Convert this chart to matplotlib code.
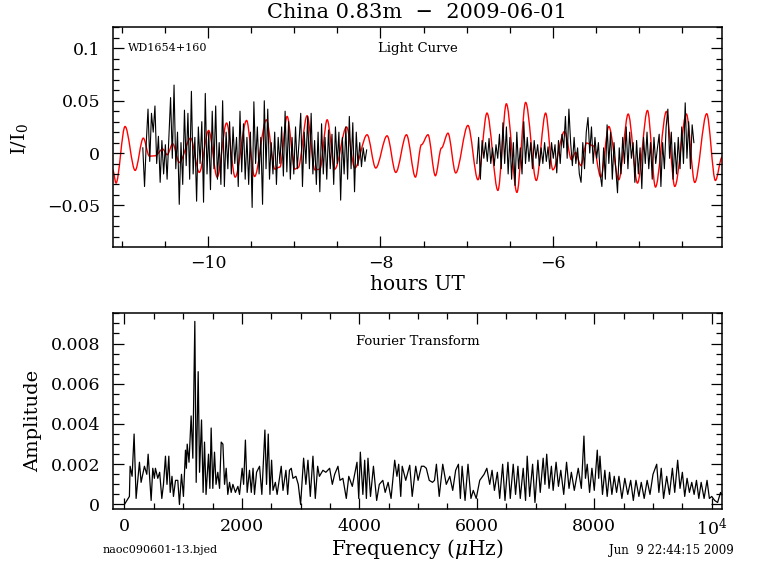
import matplotlib
matplotlib.use('Agg')
import matplotlib.pyplot as plt
from matplotlib.ticker import MultipleLocator, FuncFormatter
from matplotlib.path import Path
from matplotlib.patches import PathPatch
import numpy as np

# PGPLOT-like look: wide serif text, inward ticks on all sides
plt.rcParams['font.family'] = ['DejaVu Serif']
plt.rcParams['mathtext.fontset'] = 'dejavuserif'

# ---- light curve: two runs of observed data (units of 1e-3) ----
run1_start, run1_end = -10.76, -8.16
run1_flux = [5, -32, 10, 42, -8, 38, 20, 45, -10, 16, -28, 12, -20, 8, -25, 14,
             53, -5, 65, -15, 20, -49, 10, -30, 41, -12, 38, -25, 59, -20, 15,
             -46, 25, -10, 30, -47, 57, -20, 20, -35, 40, -15, 45, -25, 10, -30,
             50, -32, 20, -15, 30, -20, 25, -10, 15, -32, 40, -18, 28, -25, 15,
             -30, 20, -52, 49, -10, 25, -20, 15, -49, 50, -15, 42, -25, 10, -20,
             20, -30, 15, -10, 25, -22, 40, -18, 30, -25, 15, -20, 25, -15, 10,
             38, -32, 20, -10, 35, -15, 38, -20, 12, -30, 20, -37, 28, -20, 15,
             -25, 22, -15, 18, -30, 25, -10, 20, -45, 15, -20, 25, -25, 35, -15,
             29, -37, 20, -12, 10, -13, 5, -8, 3]

run2_start, run2_end = -6.88, -4.36
run2_flux = [-10, 15, -25, 12, -5, 10, -8, 14, -10, 5, -12, 8, -5, 18, -15,
             29, -10, 25, -20, 15, -25, 10, -31, 20, -15, 5, -20, 30, -10, 15,
             -8, 10, -15, 12, -5, 8, -12, 5, -10, 10, -8, 6, -15, 10, -5,
             8, -19, 12, -10, 18, 5, 35, -5, 42, 10, -12, 15, -10, 5, -20,
             -28, 10, -15, 20, 34, 0, 25, -10, 15, -5, 10, -20, -32, 5, -25,
             27, -10, 20, -25, 10, -15, -38, 5, -20, 15, -10, 25, -15, 20, -5,
             10, -28, 12, -20, 5, -34, 15, -10, 20, -15, 10, -25, 15, -10, 5,
             18, -32, 10, -15, 25, 42, -5, 20, -25, 10, -20, 15, -15, 25, -10,
             48, -5, 30, -15, 27, 10]

# ---- multi-periodic fit, read at its turning points (units of 1e-3) ----
fit_hours = [-11.109, -11.071, -10.966, -10.849, -10.754, -10.684, -10.618,
             -10.529, -10.476, -10.413, -10.336, -10.204, -10.104, -9.995,
             -9.896, -9.787, -9.687, -9.555, -9.462, -9.325, -9.226, -9.168,
             -9.084, -8.994, -8.956, -8.852, -8.762, -8.704, -8.619, -8.530,
             -8.394, -8.298, -8.155, -8.055, -7.923, -7.822, -7.698, -7.594,
             -7.524, -7.448, -7.362, -7.292, -7.216, -7.126, -6.984, -6.868,
             -6.763, -6.636, -6.538, -6.415, -6.314, -6.190, -6.082, -5.998,
             -5.862, -5.781, -5.734, -5.673, -5.607, -5.529, -5.441, -5.348,
             -5.232, -5.123, -5.015, -4.899, -4.806, -4.679, -4.582, -4.447,
             -4.350, -4.211, -4.110, -4.032]
fit_flux = [-16, -28.7, 25.4, -16.6, 14.3, -3, -2.6, 3.8, -1.6, 8.9, -9, 14.3,
            -18.5, 21.6, -23, 28.7, -23, 31.2, -22.4, 31.8, -15.3, -13.4, 35,
            -15.3, -14, 35.7, -16, -15.5, 31.8, -15.3, 24.9, -14.3, 17.5, -14.3,
            16.5, -18.5, 17.5, -23, 8, 17.5, -21.7, 4.8, 19, -19, 26.4, -25.5,
            38.2, -35.7, 47.1, -37.6, 48.4, -26.2, 38.2, -16, 20.7, -6.4, 0.6,
            -12, 9.6, 7, -23, 25.4, -25.5, 37.3, -28.7, 40.7, -32.5, 39.8,
            -31.9, 37.3, -28.1, 37.6, -26.2, -3.8]

# ---- Fourier transform, read at its turning points (amplitude in 1e-4) ----
ft_freq = [0, 85, 97, 131, 165, 199, 256, 284, 341, 381, 404, 455, 483, 510,
           528, 568, 600, 637, 665, 699, 725, 756, 780, 810, 835, 870, 909, 937,
           972, 1005, 1040, 1055, 1069, 1100, 1136, 1165, 1199, 1222, 1256,
           1279, 1313, 1340, 1364, 1390, 1432, 1455, 1477, 1505, 1534, 1560,
           1590, 1620, 1648, 1677, 1705, 1733, 1760, 1790, 1818, 1847, 1890,
           1932, 1960, 2005, 2030, 2060, 2090, 2130, 2160, 2190, 2215, 2250,
           2301, 2340, 2392, 2420, 2449, 2478, 2506, 2530, 2570, 2600, 2670,
           2700, 2750, 2780, 2810, 2841, 2870, 2920, 2960, 3000, 3051, 3090,
           3125, 3165, 3210, 3250, 3290, 3320, 3380, 3430, 3494, 3540, 3580,
           3636, 3670, 3720, 3778, 3820, 3880, 3960, 3990, 4017, 4060, 4091,
           4120, 4147, 4190, 4240, 4295, 4340, 4400, 4440, 4490, 4540, 4602,
           4640, 4670, 4705, 4730, 4790, 4858, 4900, 4960, 5000, 5057, 5100,
           5140, 5190, 5245, 5280, 5312, 5360, 5420, 5480, 5540, 5590, 5640,
           5687, 5720, 5750, 5800, 5850, 5900, 5940, 5990, 6050, 6124, 6171,
           6220, 6260, 6300, 6350, 6390, 6440, 6480, 6530, 6570, 6620, 6660,
           6700, 6740, 6790, 6830, 6858, 6900, 6950, 6990, 7040, 7080, 7130,
           7160, 7190, 7230, 7270, 7300, 7350, 7390, 7430, 7480, 7528, 7570,
           7610, 7660, 7727, 7780, 7824, 7850, 7880, 7920, 7960, 8000, 8051,
           8075, 8097, 8140, 8180, 8220, 8260, 8300, 8340, 8380, 8420, 8470,
           8520, 8570, 8620, 8665, 8710, 8760, 8800, 8850, 8900, 8949, 9000,
           9063, 9100, 9140, 9180, 9233, 9280, 9330, 9370, 9420, 9460, 9500,
           9540, 9580, 9620, 9660, 9700, 9740, 9780, 9820, 9870, 9920, 9960,
           10000, 10050, 10100, 10150, 10170]
ft_amp = [0, 4, 19, 14, 35, 3, 21, 11, 19, 15, 25, 2, 18, 13, 18, 13, 16, 3,
          10, 24, 10, 24, 6, 14, 4, 12, 12, 0, 15, 4, 27, 18, 30, 21, 44, 23,
          91, 11, 66, 16, 42, 6, 31, 5, 25, 8, 38, 8, 26, 10, 16, 8, 31, 30,
          10, 18, 5, 11, 6, 10, 6, 9, 5, 18, 10, 32, 6, 17, 6, 18, 5, 16, 19,
          5, 37, 10, 35, 5, 22, 7, 11, 5, 19, 7, 17, 5, 17, 18, 13, 14, 10, 0,
          23, 10, 22, 4, 24, 3, 19, 14, 17, 16, 18, 10, 15, 19, 12, 13, 3, 14,
          9, 21, 3, 26, 5, 22, 3, 23, 4, 19, 2, 10, 12, 6, 11, 3, 22, 14, 20,
          4, 19, 12, 19.5, 4, 19, 12, 19, 19, 18, 12, 11, 12, 20, 4, 20, 10,
          14, 7, 17, 20, 3, 19, 2, 20, 3, 7, 3, 12, 15, 18, 10, 17, 7, 16, 3,
          20, 2, 21, 3, 20, 5, 19, 3, 18, 2, 24, 4, 20, 1, 22, 6, 23, 10, 25,
          8, 19, 7, 21, 9, 17, 5, 21, 8, 16, 7, 18, 8, 34, 13, 20, 6, 18, 7,
          27, 13, 24, 5, 17, 4, 16, 5, 14, 6, 14, 3, 13, 5, 12, 2, 12, 4, 11,
          3, 12, 5, 15, 20, 6, 18, 3, 14, 5, 18, 6, 22, 8, 16, 4, 13, 6, 11, 5,
          12, 3, 11, 3, 12, 3, 4, 2, 1, 6, 5]


def smooth_path(xs, ys):
    # curve through the turning points, flat at each one (line style only)
    verts = [(xs[0], ys[0])]
    codes = [Path.MOVETO]
    for i in range(1, len(xs)):
        dx = (xs[i] - xs[i - 1]) / 3.0
        verts += [(xs[i - 1] + dx, ys[i - 1]), (xs[i] - dx, ys[i]),
                  (xs[i], ys[i])]
        codes += [Path.CURVE4] * 3
    return Path(verts, codes)


t1 = np.linspace(run1_start, run1_end, len(run1_flux))
t2 = np.linspace(run2_start, run2_end, len(run2_flux))

fig = plt.figure(figsize=(7.68, 5.74), dpi=100)
ax1 = fig.add_axes([0.1467, 0.5702, 0.7938, 0.3819])
ax2 = fig.add_axes([0.1467, 0.1127, 0.7938, 0.3425])

ax1.plot(t1, np.array(run1_flux) * 1e-3, color='black', lw=0.8)
ax1.plot(t2, np.array(run2_flux) * 1e-3, color='black', lw=0.8)
ax1.add_patch(PathPatch(smooth_path(fit_hours, np.array(fit_flux) * 1e-3),
                        fill=False, edgecolor='red', lw=1.0))
ax1.set_xlim(-11.11, -4.03)
ax1.set_ylim(-0.0895, 0.12)
ax1.xaxis.set_major_locator(MultipleLocator(2))
ax1.xaxis.set_minor_locator(MultipleLocator(0.5))
ax1.yaxis.set_major_locator(MultipleLocator(0.05))
ax1.yaxis.set_minor_locator(MultipleLocator(0.01))
fmt = lambda v, p: ('%g' % round(v, 6)).replace('-', '\u2212')
ax1.xaxis.set_major_formatter(FuncFormatter(fmt))
ax1.yaxis.set_major_formatter(FuncFormatter(fmt))

ax2.plot(ft_freq, np.array(ft_amp) * 1e-4, color='black', lw=0.9)
ax2.set_xlim(-200, 10180)
ax2.set_ylim(-0.00024, 0.00953)
ax2.xaxis.set_major_locator(MultipleLocator(2000))
ax2.xaxis.set_minor_locator(MultipleLocator(500))
ax2.yaxis.set_major_locator(MultipleLocator(0.002))
ax2.yaxis.set_minor_locator(MultipleLocator(0.0005))
ax2.xaxis.set_major_formatter(FuncFormatter(
    lambda v, p: '10$^4$' if abs(v - 10000) < 1 else '%d' % v))
ax2.yaxis.set_major_formatter(FuncFormatter(fmt))

for ax in (ax1, ax2):
    for s in ax.spines.values():
        s.set_linewidth(1.1)
    ax.tick_params(which='both', direction='in', top=True, right=True,
                   labelsize=12.5, width=0.9)
    ax.tick_params(which='major', length=8)
    ax.tick_params(axis='x', which='major', pad=6)
    ax.tick_params(axis='y', which='major', pad=9)
    ax.tick_params(which='minor', length=4)

fig.text(0.543, 0.978, 'China 0.83m  \u2212  2009-06-01', ha='center',
         va='center', fontsize=15)
ax1.text(0.025, 0.905, 'WD1654+160', transform=ax1.transAxes, fontsize=8,
         ha='left', va='center')
ax1.text(0.5, 0.905, 'Light Curve', transform=ax1.transAxes, fontsize=9.5,
         ha='center', va='center')
ax2.text(0.5, 0.855, 'Fourier Transform', transform=ax2.transAxes,
         fontsize=9.5, ha='center', va='center')
fig.text(0.543, 0.505, 'hours UT', ha='center', va='center', fontsize=14.5)
fig.text(0.026, 0.758, 'I/I$_0$', ha='center', va='center', fontsize=14,
         rotation=90)
fig.text(0.043, 0.2665, 'Amplitude', ha='center', va='center', fontsize=14,
         rotation=90)
fig.text(0.543, 0.043, 'Frequency ($\\mu$Hz)', ha='center', va='center',
         fontsize=14.5)
fig.text(0.134, 0.041, 'naoc090601-13.bjed', ha='left', va='center',
         fontsize=8)
fig.text(0.956, 0.041, 'Jun  9 22:44:15 2009', ha='right', va='center',
         fontsize=8.5)

fig.savefig('out.png', dpi=100)
